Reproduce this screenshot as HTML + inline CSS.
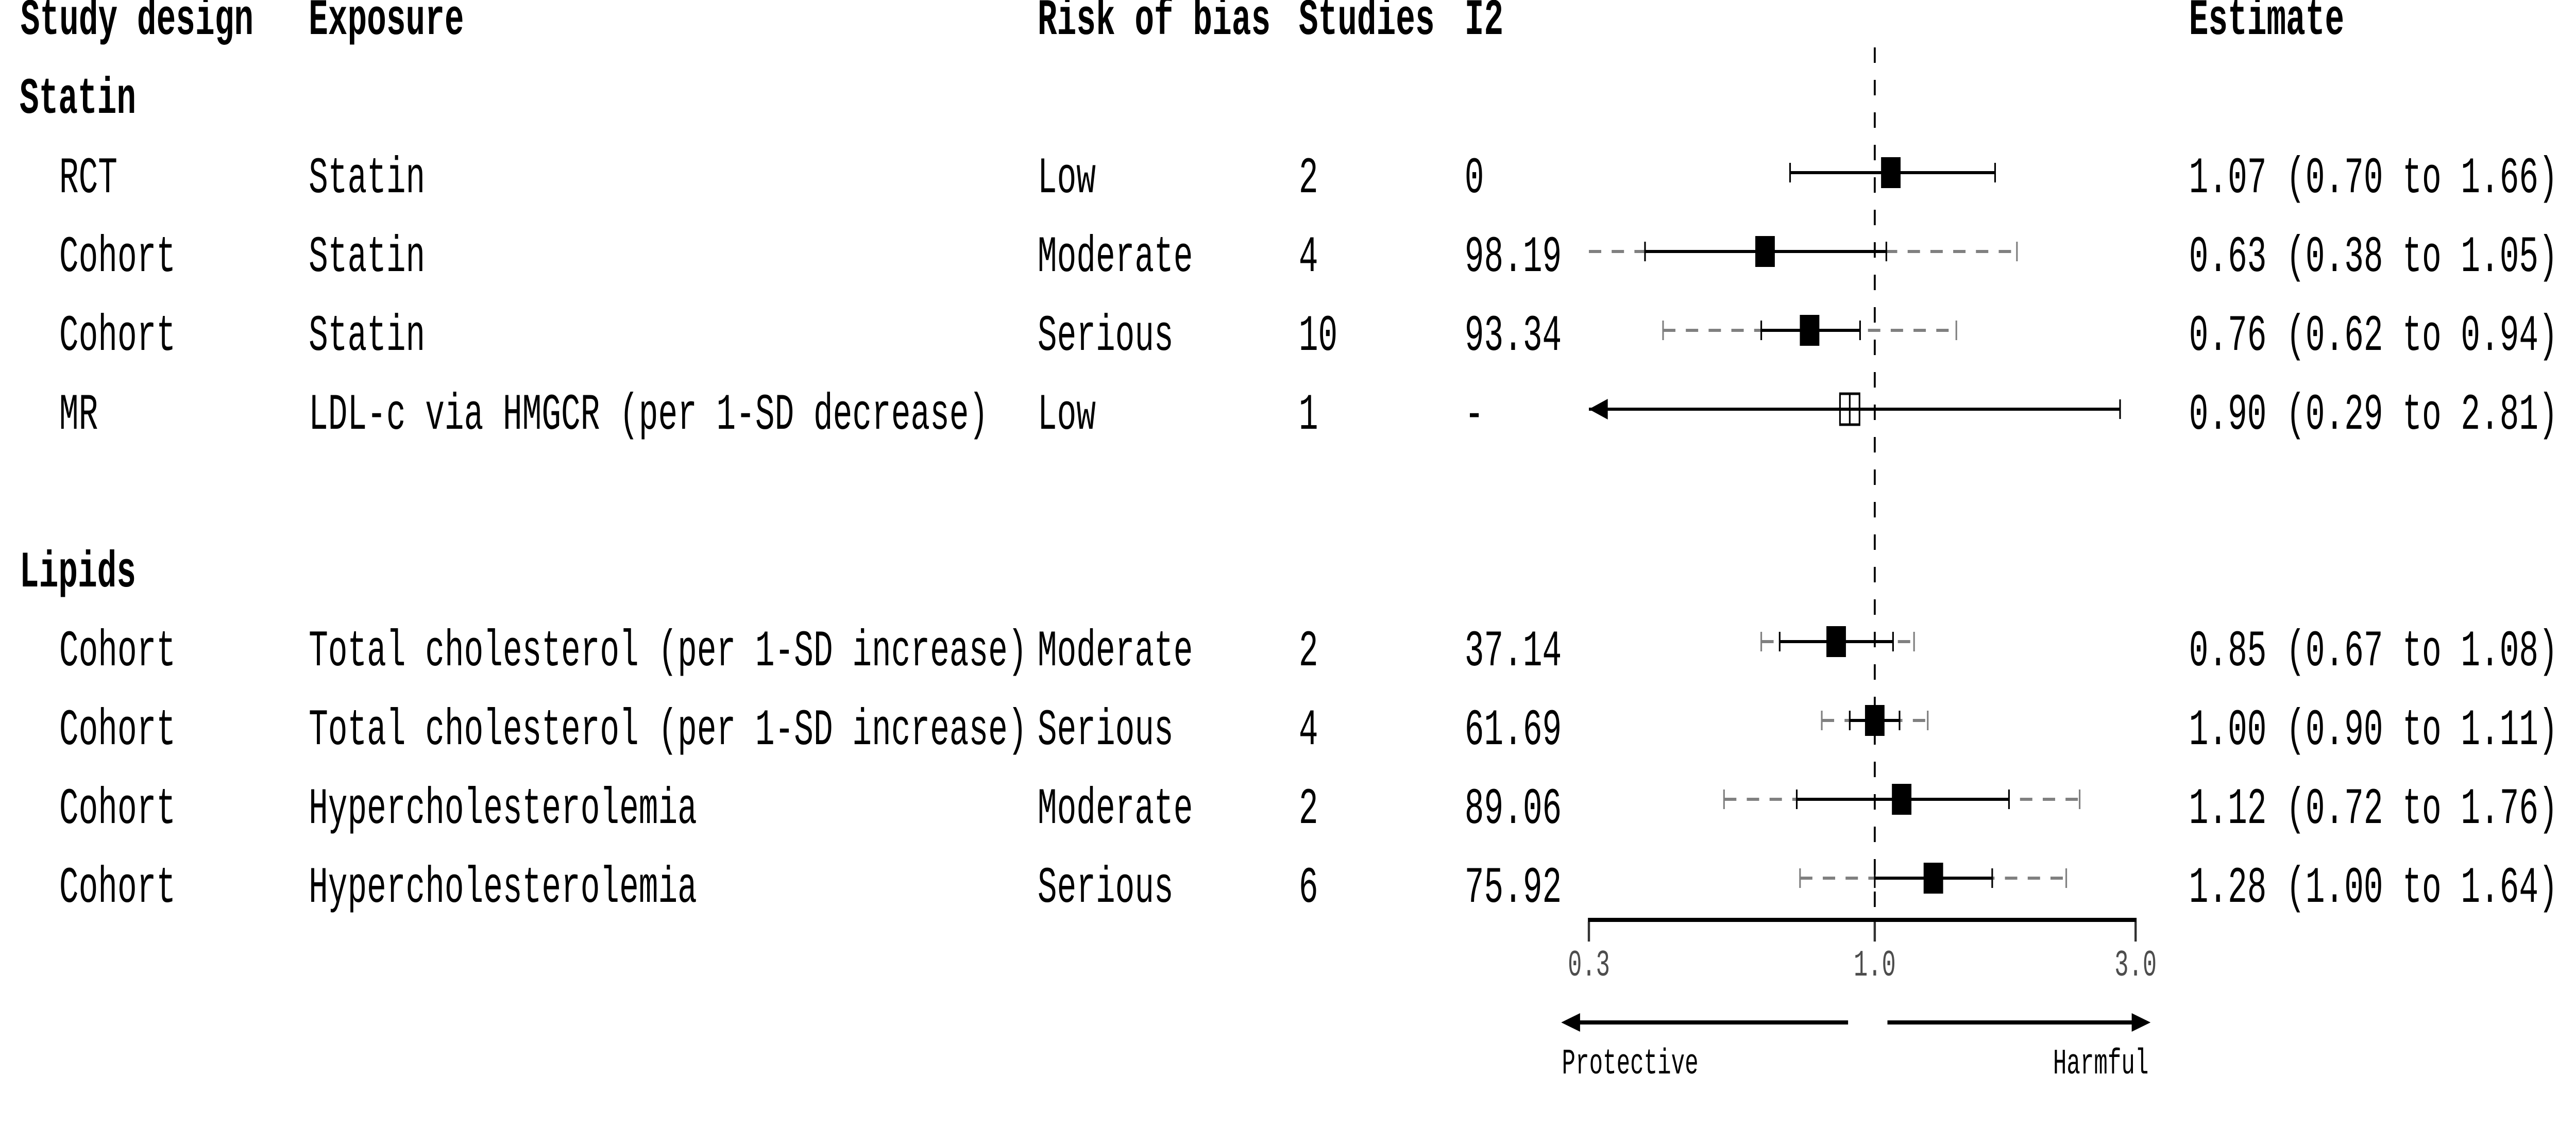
<!DOCTYPE html>
<html><head><meta charset="utf-8"><style>
html,body{margin:0;padding:0;background:#fff;width:100%;height:100%;overflow:hidden;}
svg{display:block;width:100vw;height:100vh;}
text{font-family:"Liberation Mono",monospace;}
</style></head><body>
<svg id="chart" viewBox="0 0 7920 2216" preserveAspectRatio="none" xmlns="http://www.w3.org/2000/svg">
<g id="tbl"></g>
<g id="plot"></g>
</svg>
<script>
const designs=["RCT","Cohort","Cohort","MR","Cohort","Cohort","Cohort","Cohort"];
const exposures=["Statin","Statin","Statin","LDL-c via HMGCR (per 1-SD decrease)","Total cholesterol (per 1-SD increase)","Total cholesterol (per 1-SD increase)","Hypercholesterolemia","Hypercholesterolemia"];
const biases=["Low","Moderate","Serious","Low","Moderate","Serious","Moderate","Serious"];
const studies=["2","4","10","1","2","4","2","6"];
const i2s=["0","98.19","93.34","-","37.14","61.69","89.06","75.92"];
const estimates=[1.07,0.63,0.76,0.90,0.85,1.00,1.12,1.28];
const ciLow=[0.70,0.38,0.62,0.29,0.67,0.90,0.72,1.00];
const ciHigh=[1.66,1.05,0.94,2.81,1.08,1.11,1.76,1.64];
const piLow=[null,0.25,0.41,null,0.62,0.80,0.53,0.73];
const piHigh=[null,1.82,1.41,null,1.18,1.25,2.37,2.24];
const openMarker=[false,false,false,true,false,false,false,false];
const groupOf=[0,0,0,0,1,1,1,1];
const groups=["Statin","Lipids"];
const ticks=[0.3,1.0,3.0];
const tickLabels=["0.3","1.0","3.0"];

const NS="http://www.w3.org/2000/svg";
const X0=5764, K=730, XMIN=0.3, XMAX=3.0;
function xs(v){return X0+K*Math.log(v);}
function rowY(i){const g=groupOf[i];const k=i-(g===0?0:4);return (g===0?335:1245)+153*k;}
function mk(parent,tag,attrs){const e=document.createElementNS(NS,tag);for(const a in attrs)e.setAttribute(a,attrs[a]);parent.appendChild(e);return e;}
const tbl=document.getElementById('tbl'), plot=document.getElementById('plot');
function txt(x,y,s,opts){const t=mk(tbl,'text',{x:x,y:y,'font-size':opts.size||99.5,fill:opts.fill||'#000'});if(opts.bold)t.setAttribute('font-weight','bold');if(opts.anchor)t.setAttribute('text-anchor',opts.anchor);t.textContent=s;return t;}

const hdrs=[["Study design",63],["Exposure",949],["Risk of bias",3190],["Studies",3993],["I2",4503],["Estimate",6730]];
hdrs.forEach(h=>{const t=txt(h[1],66,h[0],{bold:true});

});
groups.forEach((g,gi)=>{const t=txt(60,gi===0?219:1138,g,{bold:true});

});

designs.forEach((d,i)=>{
  const by=rowY(i)+38+(groupOf[i]?8:0);
  const cells=[[182,d,'design-cell'],[949,exposures[i],'exposure-cell'],[3190,biases[i],'bias-cell'],[3993,studies[i],'studies-cell'],[4503,i2s[i],'i2-cell'],
    [6730,estimates[i].toFixed(2)+" ("+ciLow[i].toFixed(2)+" to "+ciHigh[i].toFixed(2)+")",'estimate-cell']];
  cells.forEach(c=>{const t=txt(c[0],by,c[1],{});
  
  });
});

const ref=mk(plot,'line',{x1:xs(1),x2:xs(1),y1:92,y2:1785,stroke:'#000','stroke-width':6,'stroke-dasharray':'30 33'});



function clampX(v){return xs(Math.min(Math.max(v,XMIN),XMAX));}
estimates.forEach((e,i)=>{
  const y=rowY(i);
  if(piLow[i]!==null){
    const a=clampX(piLow[i]), b=clampX(piHigh[i]);
    const pl=mk(plot,'line',{x1:a,x2:b,y1:y,y2:y,stroke:'#808080','stroke-width':6,'stroke-dasharray':'38 32'});
    
    
    [[piLow[i],a],[piHigh[i],b]].forEach(p=>{if(p[0]>=XMIN&&p[0]<=XMAX){const c=mk(plot,'line',{x1:p[1],x2:p[1],y1:y-19,y2:y+19,stroke:'#808080','stroke-width':5});
    
    }});
  }
  const lo=clampX(ciLow[i]), hi=clampX(ciHigh[i]);
  const cl=mk(plot,'line',{x1:lo,x2:hi,y1:y,y2:y,stroke:'#000','stroke-width':6});
  
  
  [[ciLow[i],lo,-1],[ciHigh[i],hi,1]].forEach(p=>{
    if(p[0]>=XMIN&&p[0]<=XMAX){const c=mk(plot,'line',{x1:p[1],x2:p[1],y1:y-19,y2:y+19,stroke:'#000','stroke-width':5});
    
    }
    else{const d=p[2];const ar=mk(plot,'polygon',{points:`${p[1]},${y} ${p[1]-d*58},${y-20} ${p[1]-d*58},${y+20}`,fill:'#000'});
    
    }
  });
  const cx=xs(e);
  if(openMarker[i]){
    const r=mk(plot,'rect',{x:cx-30,y:y-30,width:60,height:60,fill:'none',stroke:'#000','stroke-width':5});
    
    
    const v=mk(plot,'line',{x1:cx,x2:cx,y1:y-30,y2:y+30,stroke:'#000','stroke-width':5});
    
    
  } else {
    const r=mk(plot,'rect',{x:cx-30,y:y-30,width:60,height:60,fill:'#000'});
    
    
  }
});

const ax=mk(plot,'line',{x1:xs(XMIN)-3,x2:xs(XMAX)+3,y1:1785,y2:1785,stroke:'#000','stroke-width':8});


ticks.forEach((t,i)=>{
  const x=xs(t);
  const tk=mk(plot,'line',{x1:x,x2:x,y1:1789,y2:1827,stroke:'#333','stroke-width':7});
  
  
  const lb=mk(plot,'text',{x:x,y:1893,'font-size':72,fill:'#4d4d4d','text-anchor':'middle'});
  lb.textContent=tickLabels[i];
  
  
});
const la=mk(plot,'line',{x1:4840,x2:5682,y1:1984,y2:1984,stroke:'#000','stroke-width':8});


const lh=mk(plot,'polygon',{points:'4800,1984 4858,1966 4858,2002',fill:'#000'});


const ra=mk(plot,'line',{x1:5803,x2:6570,y1:1984,y2:1984,stroke:'#000','stroke-width':8});


const rh=mk(plot,'polygon',{points:'6612,1984 6554,1966 6554,2002',fill:'#000'});


const pt=mk(plot,'text',{x:4802,y:2083,'font-size':70,fill:'#000'});pt.textContent='Protective';


const ht=mk(plot,'text',{x:6606,y:2083,'font-size':70,fill:'#000','text-anchor':'end'});ht.textContent='Harmful';


</script>
</body></html>
